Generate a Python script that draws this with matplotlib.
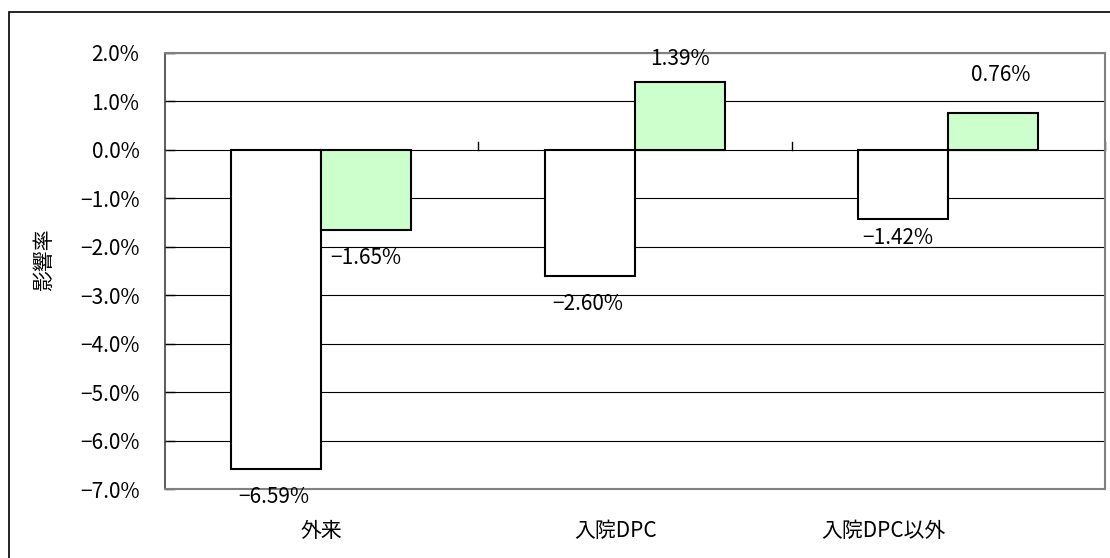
import matplotlib.pyplot as plt
import matplotlib.transforms as mtransforms
from matplotlib.patches import Rectangle
from matplotlib.ticker import FuncFormatter, FixedLocator

plt.rcParams['font.family'] = ['Noto Sans CJK JP', 'DejaVu Sans']

categories = ['外来', '入院DPC', '入院DPC以外']
series_a = [-6.59, -2.60, -1.42]
series_b = [-1.65, 1.39, 0.76]
y_ticks = [2.0, 1.0, 0.0, -1.0, -2.0, -3.0, -4.0, -5.0, -6.0, -7.0]

# label nudges in pixels (x, y)
offsets_a = [(-2, -28), (-2, -28), (-5, -19)]
offsets_b = [(0, -28), (0, 23), (7, 38)]
xlabel_shift = [0, -19, -65]


def pct(v, pos=None):
    return f"{v:.1f}%".replace('-', '\u2212')


def lab(v):
    return f"{v:.2f}%".replace('-', '\u2212')


fig = plt.figure(figsize=(11.1, 5.58), dpi=100)
ax = fig.add_axes([164.5 / 1110, 1 - 489.3 / 558, 940.5 / 1110, 436.6 / 558])

# outer chart frame
fig.patches.append(Rectangle((9 / 1110, -0.1), 1.2, 1 - 12 / 558 + 0.1,
                             transform=fig.transFigure, fill=False,
                             edgecolor='black', lw=1.2))

x = list(range(len(categories)))
w = 90 / 313.5
bars_a = ax.bar([i - w / 2 for i in x], series_a, w, color='white',
                edgecolor='black', lw=1.5, zorder=3)
bars_b = ax.bar([i + w / 2 for i in x], series_b, w, color='#ccffcc',
                edgecolor='black', lw=1.5, zorder=3)

ax.set_xlim(-0.5, 2.5)
ax.set_ylim(-7.0, 2.0)
ax.yaxis.set_major_locator(FixedLocator(y_ticks))
ax.yaxis.set_major_formatter(FuncFormatter(pct))
ax.tick_params(axis='y', direction='in', length=7, width=1, labelsize=15,
               pad=18, colors='black')
for v in y_ticks:
    ax.axhline(v, color='black', lw=0.8, zorder=1)

ax.set_xticks(x)
ax.set_xticklabels(categories, fontsize=15)
ax.tick_params(axis='x', length=0, pad=22)
for t, dx in zip(ax.get_xticklabels(), xlabel_shift):
    t.set_transform(t.get_transform() +
                    mtransforms.ScaledTranslation(dx / 100, 0, fig.dpi_scale_trans))

# category boundary ticks on the zero line
for b in [0.5, 1.5, 2.5]:
    ax.plot([b, b], [0, 0.16], color='black', lw=1, zorder=2, clip_on=False)

for s in ['top', 'right', 'bottom']:
    ax.spines[s].set_color('#808080')
    ax.spines[s].set_linewidth(1.5)
ax.spines['left'].set_color('#404040')
ax.spines['left'].set_linewidth(1.2)

for bars, vals, offs in [(bars_a, series_a, offsets_a), (bars_b, series_b, offsets_b)]:
    for r, v, (dx, dy) in zip(bars, vals, offs):
        ax.annotate(lab(v), (r.get_x() + r.get_width() / 2, v),
                    xytext=(dx * 0.72, dy * 0.72), textcoords='offset points',
                    ha='center', va='center', fontsize=15, zorder=4,
                    annotation_clip=False)

ax.set_ylabel('影響率', fontsize=15)
ax.yaxis.set_label_coords(-0.116, 0.525)

fig.savefig('out.png', dpi=100)
